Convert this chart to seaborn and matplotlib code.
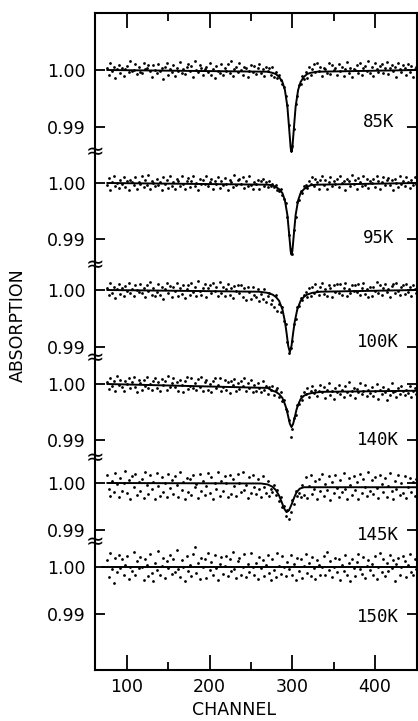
import numpy as np
import pandas as pd
import matplotlib
matplotlib.use("Agg")
import matplotlib.pyplot as plt
import seaborn as sns

# ---------------- data ----------------
temps = ["85K", "95K", "100K", "140K", "145K", "150K"]
first_channel, last_channel, channel_step = 76, 450, 2

# measured points: deviation from 1.00 absorption, in units of 1e-4 (one per channel step)
dots_85K = [
    3, -8, 12, -2, 6, -14, 1, 9, -5, 4,
    -11, 2, 7, -4, 15, -1, 0, 10, -7, 5,
    -3, -6, 13, 1, 4, 9, -2, -12, 8, 0,
    -6, 11, -1, 3, -15, 5, 12, -9, 2, -4,
    8, -10, 4, -1, 14, -5, 1, -7, 6, 11,
    -2, 7, -13, 16, 0, -4, 9, 3, -9, 2,
    5, -3, 12, -8, 1, -14, 7, -1, -5, 10,
    -9, 4, -2, 11, -6, 15, -11, 2, 6, -3,
    13, 0, -8, 5, 3, -12, -1, 9, -4, 7,
    -7, 3, 10, -5, 1, -10, 6, -2, 4, -9,
    6, -12, -4, -14, -8, -18, -24, -30, -45, -62,
    -96, -140, -134, -104, -60, -46, -26, -24, -10, -16,
    -3, -14, 6, -9, 2, 10, -4, 12, -1, 5,
    -11, 4, 1, -5, 13, -7, 8, 0, 3, -9,
    11, -2, 6, -10, 2, 14, -6, 4, -12, 1,
    0, 9, -5, 13, -8, 3, 7, -2, 16, -6,
    5, -11, 12, 1, -4, 7, 10, -6, 3, 14,
    -7, 4, 9, -1, 6, -13, 12, 2, -4, 8,
    3, -9, 11, -3, 7, -12, 1, 5]
dots_95K = [
    -4, 9, -12, 2, 13, -6, 0, -9, 5, -2,
    11, -7, 3, -13, 6, 1, -4, 10, -10, 2,
    -1, 12, -8, 5, -3, 14, -11, 4, 0, -6,
    8, -3, 2, -12, 10, -1, 6, -9, 13, -5,
    1, -10, 7, 3, -6, 12, -2, -11, 4, 9,
    -8, 3, 13, -5, 0, -12, 8, -2, 6, -1,
    12, -5, 2, 7, -11, 4, -1, 10, -9, 3,
    -4, 9, -2, -13, 6, 1, -7, 14, -3, 5,
    7, -1, 11, -9, 3, -5, 12, -3, -10, 2,
    -2, 6, -11, 4, 8, -5, 1, -8, 3, -6,
    -2, -8, -4, -12, -14, -10, -22, -28, -36, -60,
    -92, -118, -126, -84, -60, -34, -30, -14, -18, -6,
    -3, -9, 4, -2, 10, -6, 7, 1, -11, 5,
    12, -4, 6, -10, 2, 11, -5, 3, -1, 8,
    -8, 12, 0, 4, -12, 7, 3, -5, 14, -2,
    6, -11, 9, 1, -6, 13, -3, 8, -9, 4,
    0, 8, -7, 12, 4, -10, 2, 11, -4, 6,
    9, -3, 5, -12, 8, 0, -8, 13, -1, 4,
    -6, 11, 2, -9, 6, -4, 10, -2]
dots_100K = [
    3, -9, 12, -5, 6, -14, 1, 10, -7, 4,
    -11, 7, -2, 13, -5, 2, -10, 8, 0, -4,
    11, -6, 4, -13, 8, -1, 14, -8, 3, -11,
    -3, 10, -9, 5, -15, 2, 12, -5, 7, -12,
    6, -2, 13, -10, 4, -7, 9, -14, 1, 8,
    -8, 12, -4, 6, -11, 15, -1, -9, 4, 10,
    -13, 3, 9, -6, 12, -2, 6, -11, 14, -5,
    5, -10, 2, 11, -8, 4, -14, 7, -1, 9,
    -6, 8, -12, 3, -17, 6, -3, -15, 5, -9,
    -13, 2, -19, -7, -15, 1, -21, -11, -5, -24,
    -18, -30, -9, -36, -24, -38, -30, -55, -60, -92,
    -110, -102, -90, -60, -50, -30, -28, -14, -18, -8,
    -3, -13, 4, -11, 6, -5, 10, -2, -9, 5,
    12, -7, 1, -10, 8, 3, -12, 9, -4, 11,
    -5, 10, -8, 4, 13, -11, 2, -6, 9, -1,
    8, -3, 11, -9, 4, 12, -7, 1, -13, 6,
    -10, 6, -2, 14, -5, 9, -8, 3, 11, -4,
    2, -12, 7, 10, -6, 13, -1, -9, 5, 8,
    -7, 11, -4, 6, -11, 9, 1, -5]
dots_140K = [
    4, -9, 11, -3, 6, -13, 14, -1, 8, -6,
    -12, 5, 0, 10, -8, 3, 12, -5, -14, 8,
    2, -11, 7, -4, 13, -7, 0, -10, 5, 11,
    -8, 3, -13, 9, -2, 6, -11, 14, -5, 1,
    10, -6, 4, -12, 7, -1, -15, 5, 12, -9,
    -3, 11, -8, 2, -11, 9, -5, 13, -13, 4,
    7, -10, 0, -14, 5, 10, -7, -2, 11, -12,
    -5, 8, -11, 3, -16, 6, -1, 9, -13, 2,
    -9, 5, -4, 11, -12, 1, -8, 7, -15, -1,
    -12, 1, -8, -15, 5, -11, -3, -18, -6, -10,
    -4, -20, -10, -8, -24, -14, -30, -28, -44, -48,
    -64, -95, -80, -60, -56, -38, -36, -22, -28, -14,
    -18, -8, -24, -12, -4, -16, -10, -22, -13, -1,
    -15, -6, -25, -10, 1, -19, -12, -27, -7, -14,
    -1, -17, -11, -23, -4, -14, 3, -20, -12, -8,
    -25, -9, -15, 2, -18, -13, -2, -22, -10, -16,
    -6, -21, -12, 0, -26, -11, -17, -5, -14, -29,
    -9, -19, 1, -15, -12, -23, -7, -18, -3, -13,
    -20, -10, -16, -4, -24, -12, -8, -17]
dots_145K = [
    18, -12, -28, 4, -20, 22, -3, -30, 10, -16,
    -1, 25, -22, 6, -33, 14, -8, 20, -26, 2,
    -18, 9, -31, 24, -5, -24, 16, -12, 3, -35,
    21, -7, -27, 13, -19, 1, -30, 19, -10, 6,
    -23, 15, -4, -29, 23, -15, 2, -33, 11, -20,
    8, -26, 18, -9, -2, -32, 20, -17, 4, -25,
    -6, 22, -21, 12, -34, 1, -13, 24, -28, 5,
    -16, 14, 0, -30, 17, -24, 9, -7, -27, 19,
    1, -19, 23, -14, -4, -31, 13, -22, 16, -8,
    -24, 9, -13, -30, 15, -8, -21, 4, -27, -12,
    -20, -4, -26, -14, -38, -30, -52, -48, -70, -58,
    -76, -62, -36, -44, -18, -28, -22, -30, -4, -26,
    12, -31, -6, 18, -24, -13, 5, -34, 9, -18,
    20, -27, -3, -15, 14, -36, 2, -22, 17, -10,
    -30, 7, -19, 22, -12, -33, 11, -5, -25, 15,
    -14, 3, -35, 19, -21, 8, -8, -28, 23, -16,
    6, -24, 13, -11, -32, 16, -2, -20, 10, -29,
    -7, 21, -18, -34, 4, -12, 18, -26, -1, -22,
    14, -31, -9, 11, -19, 2, -27, 8]
dots_150K = [
    14, -22, 30, -4, -34, 20, -10, 26, -2, 18,
    -16, 5, 24, -26, 1, -8, 32, -18, 12, -3,
    22, 0, -28, 16, 4, -20, 28, -12, -30, 8,
    -6, 34, -18, 2, 20, -24, 12, -2, 26, -14,
    18, -10, 36, -4, -22, 14, 1, -30, 24, -8,
    5, -20, 28, 42, -12, 8, -26, 20, 0, 16,
    -24, 30, -6, 10, -18, 26, -2, -28, 6, 22,
    -14, 3, 24, -20, 16, -8, 32, -4, -24, 12,
    20, -16, 1, 28, -22, 6, -10, 30, -1, -18,
    8, -26, 22, -3, 14, -20, 4, 26, -12, -28,
    18, -6, -22, 30, 2, -14, 24, -1, -20, 10,
    -4, 26, -16, 6, -28, 20, -8, 16, -24, 2,
    28, -12, 8, -20, 22, -3, -26, 14, 4, -16,
    0, 24, -18, 32, -6, 12, -22, 1, 20, -10,
    16, -28, 4, -8, 26, -16, 9, -30, 18, -2,
    -20, 10, 28, -4, -14, 22, -24, 3, 14, -6,
    6, -18, 24, -26, 1, 30, -10, 18, -20, 8,
    -8, 26, -3, 14, -30, 6, 20, -16, 0, 24,
    12, -22, 4, 28, -10, -18, 16, -4]

# fitted curves (channel, deviation from 1.00 in units of 1e-4)
fit_85K_ch = [76, 270, 276, 280, 284, 288, 291, 294, 296, 298, 299, 300, 302, 304, 307, 310, 314, 318, 322, 330, 451]
fit_85K_dev = [0, -3, -5, -7, -12, -21, -35, -64, -100, -137, -144, -137, -100, -64, -35, -21, -12, -7, -5, -3, 0]
fit_95K_ch = [76, 270, 276, 280, 284, 288, 291, 294, 296, 298, 299, 300, 302, 304, 307, 310, 314, 318, 322, 330, 451]
fit_95K_dev = [0, -3, -4, -7, -11, -18, -31, -57, -89, -122, -128, -122, -89, -57, -31, -18, -11, -7, -4, -3, 0]
fit_100K_ch = [76, 260, 270, 276, 280, 284, 288, 291, 293, 295, 297, 299, 301, 303, 306, 310, 314, 318, 324, 334, 451]
fit_100K_dev = [0, -3, -5, -8, -12, -19, -34, -55, -75, -98, -109, -98, -75, -55, -34, -19, -12, -8, -5, -3, 0]
fit_140K_ch = [76, 270, 276, 280, 284, 288, 291, 293, 295, 297, 299, 301, 303, 305, 307, 310, 314, 318, 324, 335, 451]
fit_140K_dev = [0, -7, -12, -14, -18, -25, -36, -45, -58, -71, -77, -71, -59, -46, -37, -27, -21, -18, -16, -14, -12]
fit_145K_ch = [76, 262, 270, 276, 280, 284, 287, 290, 293, 296, 299, 302, 305, 309, 314, 451]
fit_145K_dev = [0, -1, -3, -8, -15, -27, -40, -54, -62, -58, -46, -32, -20, -12, -9, -9]
fit_150K_ch = [70, 451]
fit_150K_dev = [0, 0]

x_ticks = [100, 200, 300, 400]
x_minor = [150, 250, 350]
y_tick_labels = ["1.00", "0.99"]

# ---------------- layout (figure pixel rows) ----------------
W, H = 418, 721
ax_left, ax_right, ax_top, ax_bottom = 95, 417, 13, 670
base_px = [70, 183, 290, 384, 483, 567]      # row of 1.00 for each panel
scale_px = [57, 56, 57, 56, 47, 47]          # pixels per 0.01
label_px = [122, 238, 342, 440, 535, 617]
break_px = [152, 265, 358, 458, 542]
xlim = (61.3, 450.8)

dots = [dots_85K, dots_95K, dots_100K, dots_140K, dots_145K, dots_150K]
fits = [(fit_85K_ch, fit_85K_dev), (fit_95K_ch, fit_95K_dev), (fit_100K_ch, fit_100K_dev),
        (fit_140K_ch, fit_140K_dev), (fit_145K_ch, fit_145K_dev), (fit_150K_ch, fit_150K_dev)]

channels = np.arange(first_channel, last_channel + 1, channel_step)


def to_row(absorption, i):
    return base_px[i] + (1.0 - np.asarray(absorption)) * 100.0 * scale_px[i]


rows_pts, rows_fit = [], []
for i, t in enumerate(temps):
    assert len(dots[i]) == len(channels), (t, len(dots[i]))
    absorb = 1.0 + np.array(dots[i]) * 1e-4
    rows_pts.append(pd.DataFrame({"channel": channels, "absorption": absorb,
                                  "y": to_row(absorb, i), "T": t}))
    fch, fdev = fits[i]
    fabs = 1.0 + np.array(fdev) * 1e-4
    rows_fit.append(pd.DataFrame({"channel": fch, "absorption": fabs,
                                  "y": to_row(fabs, i), "T": t}))
pts = pd.concat(rows_pts, ignore_index=True)
fit = pd.concat(rows_fit, ignore_index=True)

# ---------------- drawing ----------------
sns.set_style("ticks")
plt.rcParams["font.family"] = ["DejaVu Sans"]
plt.rcParams.update({"text.color": "black", "axes.edgecolor": "black",
                     "xtick.color": "black", "ytick.color": "black",
                     "axes.labelcolor": "black"})

fig = plt.figure(figsize=(W / 100, H / 100), dpi=100)
ax = fig.add_axes([ax_left / W, 1 - ax_bottom / H, (ax_right - ax_left) / W, (ax_bottom - ax_top) / H])

sns.scatterplot(data=pts, x="channel", y="y", color="black", s=4, linewidth=0,
                legend=False, ax=ax, zorder=3)
sns.lineplot(data=fit, x="channel", y="y", units="T", estimator=None, sort=False,
             color="black", lw=1.4, legend=False, ax=ax, zorder=4)

ax.set_xlim(*xlim)
ax.set_ylim(ax_bottom, ax_top)

yt, yl = [], []
for i in range(len(temps)):
    yt += [base_px[i], base_px[i] + scale_px[i]]
    yl += y_tick_labels
ax.set_yticks(yt)
ax.set_yticklabels(yl)
ax.set_xticks(x_ticks)
ax.set_xticklabels([str(v) for v in x_ticks])
ax.set_xticks(x_minor, minor=True)

for s in ax.spines.values():
    s.set_linewidth(1.5)
    s.set_color("black")
    s.set_visible(True)
ax.tick_params(axis="x", which="major", direction="in", length=11, width=1.3,
               top=True, bottom=True, labelsize=12.5, pad=6, colors="black")
ax.tick_params(axis="x", which="minor", direction="in", length=5.5, width=1.3,
               top=True, bottom=True, colors="black")
ax.tick_params(axis="y", which="major", direction="in", length=7, width=1.3,
               left=True, right=True, labelsize=12.5, pad=7, colors="black")

ax.set_xlabel("")
ax.set_ylabel("")

for i, t in enumerate(temps):
    ax.text(404, label_px[i], t, ha="center", va="center", fontsize=12.5,
            family=["DejaVu Sans Mono", "DejaVu Sans"], color="black")

for yb in break_px:
    ax.text(xlim[0], yb, "\u2248", ha="center", va="center", fontsize=16,
            color="black", clip_on=False)

fig.text(18 / W, 1 - 325 / H, "ABSORPTION", rotation=90, ha="center", va="center",
         fontsize=12.5, color="black")
fig.text(234 / W, 1 - 710 / H, "CHANNEL", ha="center", va="center", fontsize=12.5,
         color="black")

fig.savefig("out.png", dpi=100, facecolor="white")
